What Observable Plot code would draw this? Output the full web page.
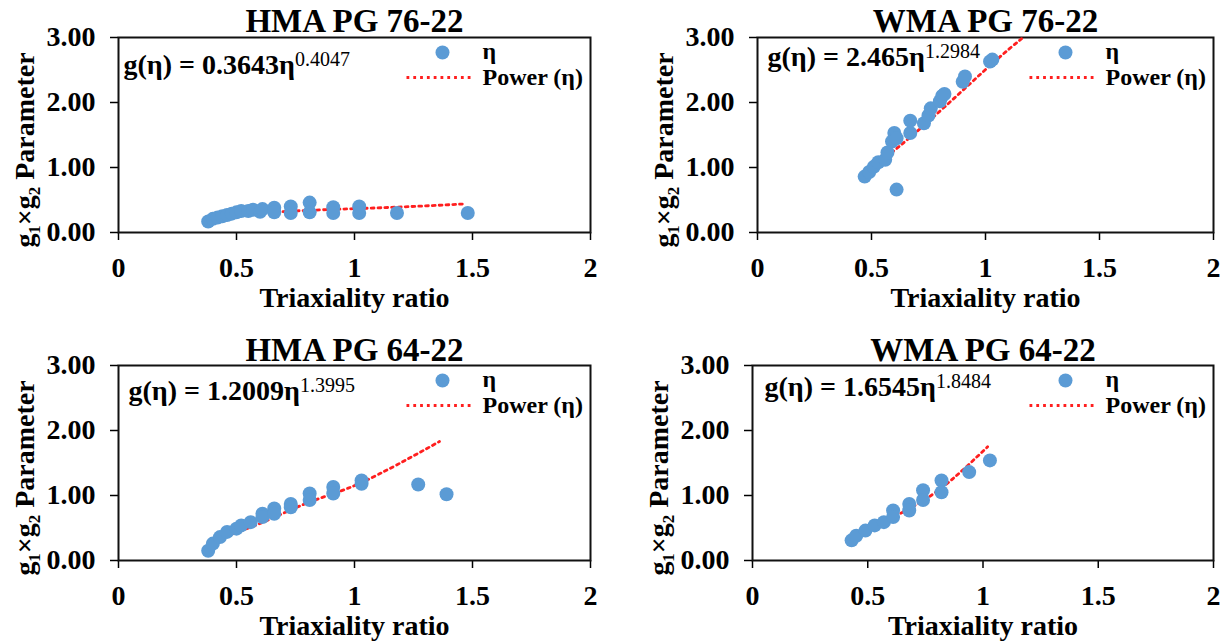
<!DOCTYPE html>
<html><head><meta charset="utf-8">
<script src="https://cdn.jsdelivr.net/npm/d3@7"></script>
<script src="https://cdn.jsdelivr.net/npm/@observablehq/plot@0.6"></script>
<style>
body{margin:0;background:#fff;}
#chart{position:relative;width:1228px;height:643px;overflow:hidden;background:#fff;}
#chart svg{position:absolute;}
#chart svg text{font-family:"Liberation Serif","Times New Roman",Times,serif;}
</style></head><body><div id="chart"></div>
<script>
// ---------- texts ----------
const titles = ["HMA PG 76-22", "WMA PG 76-22", "HMA PG 64-22", "WMA PG 64-22"];
const eqBase = ["g(η) = 0.3643η", "g(η) = 2.465η", "g(η) = 1.2009η", "g(η) = 1.6545η"];
const eqExp = ["0.4047", "1.2984", "1.3995", "1.8484"];
const xTicks = [0, 0.5, 1, 1.5, 2];
const xTickLabels = ["0", "0.5", "1", "1.5", "2"];
const yTicks = [0, 1, 2, 3];
const yTickLabels = ["0.00", "1.00", "2.00", "3.00"];
const xLabel = "Triaxiality ratio";
const yLabel = "g₁×g₂ Parameter";
const seriesName = "η";
const trendName = "Power (η)";

// ---------- data: HMA PG 76-22 ----------
const hma76X = [0.38,0.40,0.42,0.44,0.46,0.48,0.50,0.52,0.55,0.57,0.60,0.61,0.66,0.66,0.73,0.73,0.81,0.81,0.91,0.91,1.02,1.02,1.18,1.48];
const hma76Y = [0.17,0.21,0.23,0.25,0.27,0.29,0.31,0.33,0.33,0.35,0.32,0.36,0.38,0.31,0.40,0.30,0.46,0.31,0.39,0.30,0.40,0.30,0.30,0.30];
const hma76TrendX = [0.38,0.64,0.87,1.18,1.47];
const hma76TrendY = [0.25,0.31,0.35,0.39,0.44];

// ---------- data: WMA PG 76-22 ----------
const wma76X = [0.47,0.49,0.51,0.53,0.56,0.57,0.59,0.60,0.61,0.61,0.67,0.67,0.73,0.75,0.76,0.80,0.81,0.82,0.90,0.91,1.02,1.03];
const wma76Y = [0.86,0.93,1.01,1.08,1.12,1.23,1.40,1.53,1.45,0.66,1.53,1.72,1.68,1.80,1.91,2.02,2.10,2.13,2.32,2.40,2.63,2.66];
const wma76TrendX = [0.47,0.62,0.82,1.03,1.165];
const wma76TrendY = [0.91,1.32,1.93,2.60,3.0];

// ---------- data: HMA PG 64-22 ----------
const hma64X = [0.38,0.40,0.43,0.46,0.50,0.52,0.56,0.61,0.61,0.66,0.66,0.73,0.73,0.81,0.81,0.91,0.91,1.03,1.03,1.27,1.39];
const hma64Y = [0.15,0.26,0.36,0.44,0.49,0.54,0.59,0.72,0.67,0.80,0.72,0.87,0.82,1.03,0.93,1.13,1.03,1.23,1.18,1.17,1.02];
const hma64TrendX = [0.38,0.60,0.81,1.03,1.36];
const hma64TrendY = [0.28,0.57,0.90,1.20,1.83];

// ---------- data: WMA PG 64-22 ----------
const wma64X = [0.43,0.45,0.49,0.53,0.57,0.61,0.61,0.68,0.68,0.74,0.74,0.82,0.82,0.94,1.03];
const wma64Y = [0.31,0.38,0.46,0.54,0.59,0.77,0.67,0.87,0.77,1.08,0.93,1.23,1.05,1.36,1.54];
const wma64TrendX = [0.43,0.60,0.74,0.87,1.02];
const wma64TrendY = [0.36,0.65,0.92,1.26,1.75];

// ---------- layout / style ----------
const serif = "Liberation Serif";
const blue = "#5b9bd5";
const red = "#ff1f1f";
const layouts = [
  {left: 0,   top: 0,   h: 321, ml: 118, mr: 24, mt: 37, mb: 89, titleDy: -6, xlDy: 55, eqDx: 5,  eqDy: 36},
  {left: 614, top: 0,   h: 321, ml: 143, mr: 15, mt: 37, mb: 89, titleDy: -6, xlDy: 55, eqDx: 10, eqDy: 28},
  {left: 0,   top: 321, h: 322, ml: 118, mr: 24, mt: 44, mb: 83, titleDy: -5, xlDy: 55, eqDx: 10, eqDy: 34},
  {left: 614, top: 321, h: 322, ml: 138, mr: 15, mt: 44, mb: 83, titleDy: -5, xlDy: 55, eqDx: 12, eqDy: 30}
];
const legendLine = {draw(ctx) { ctx.moveTo(-34, 0); ctx.lineTo(34, 0); }};

const panels = [
  [hma76X, hma76Y, hma76TrendX, hma76TrendY],
  [wma76X, wma76Y, wma76TrendX, wma76TrendY],
  [hma64X, hma64Y, hma64TrendX, hma64TrendY],
  [wma64X, wma64Y, wma64TrendX, wma64TrendY]
];

const chart = document.getElementById("chart");
panels.forEach(([xs, ys, tx, ty], i) => {
  const lay = layouts[i];
  const pts = xs.map((x, k) => ({x, y: ys[k]}));
  const trend = tx.map((x, k) => ({x, y: ty[k]}));
  const svg = Plot.plot({
    width: 614, height: lay.h,
    marginLeft: lay.ml, marginRight: lay.mr, marginTop: lay.mt, marginBottom: lay.mb,
    style: {fontFamily: serif, fontWeight: "bold", fontSize: "28px", color: "#000", background: "transparent", overflow: "visible"},
    x: {domain: [0, 2]},
    y: {domain: [0, 3]},
    marks: [
      Plot.axisX({ticks: xTicks, tickFormat: d => xTickLabels[xTicks.indexOf(d)], tickSize: 8, tickPadding: 17, label: null, strokeWidth: 1.5, fontFamily: serif, fontWeight: "bold", fontSize: 28}),
      Plot.axisY({ticks: yTicks, tickFormat: d => yTickLabels[yTicks.indexOf(d)], tickSize: 8, tickPadding: 15, label: null, strokeWidth: 1.5, fontFamily: serif, fontWeight: "bold", fontSize: 28}),
      Plot.frame({stroke: "#111", strokeWidth: 2}),
      Plot.line(trend, {x: "x", y: "y", stroke: red, strokeWidth: 2.8, strokeDasharray: "2.8,4", curve: "natural"}),
      Plot.dot(pts, {x: "x", y: "y", r: 7, fill: blue}),
      Plot.text([titles[i]], {text: d => d, frameAnchor: "top", lineAnchor: "bottom", dy: lay.titleDy, fontSize: 33, fontFamily: serif, fontWeight: "bold"}),
      Plot.text([xLabel], {text: d => d, frameAnchor: "bottom", lineAnchor: "top", dy: lay.xlDy, fontFamily: serif, fontWeight: "bold"}),
      Plot.text([yLabel], {text: d => d, frameAnchor: "left", textAnchor: "middle", rotate: -90, lineAnchor: "top", dx: -104, dy: 15, fontFamily: serif, fontWeight: "bold"}),
      Plot.text([eqBase[i]], {text: d => d, frameAnchor: "top-left", textAnchor: "start", lineAnchor: "bottom", dx: lay.eqDx, dy: lay.eqDy, fontFamily: serif, fontWeight: "bold"}),
      Plot.dot([seriesName], {frameAnchor: "top-right", dx: -148, dy: 15, r: 7, fill: blue}),
      Plot.dot([trendName], {frameAnchor: "top-right", dx: -150, dy: 40, r: 5, symbol: legendLine, fill: "none", stroke: red, strokeWidth: 2.8, strokeDasharray: "2.8,4"}),
      Plot.text([seriesName], {text: d => d, frameAnchor: "top-right", textAnchor: "start", lineAnchor: "bottom", dx: -108, dy: 21, fontSize: 24, fontFamily: serif, fontWeight: "bold"}),
      Plot.text([trendName], {text: d => d, frameAnchor: "top-right", textAnchor: "start", lineAnchor: "bottom", dx: -108, dy: 47, fontSize: 24, fontFamily: serif, fontWeight: "bold"})
    ]
  });
  d3.select(svg).selectAll("text")
    .filter(function () { return this.textContent === eqBase[i]; })
    .append("tspan").attr("dy", "-8").attr("font-size", "20px").attr("font-weight", "normal").text(eqExp[i]);
  svg.style.left = lay.left + "px";
  svg.style.top = lay.top + "px";
  chart.appendChild(svg);
});
</script>
</body></html>
